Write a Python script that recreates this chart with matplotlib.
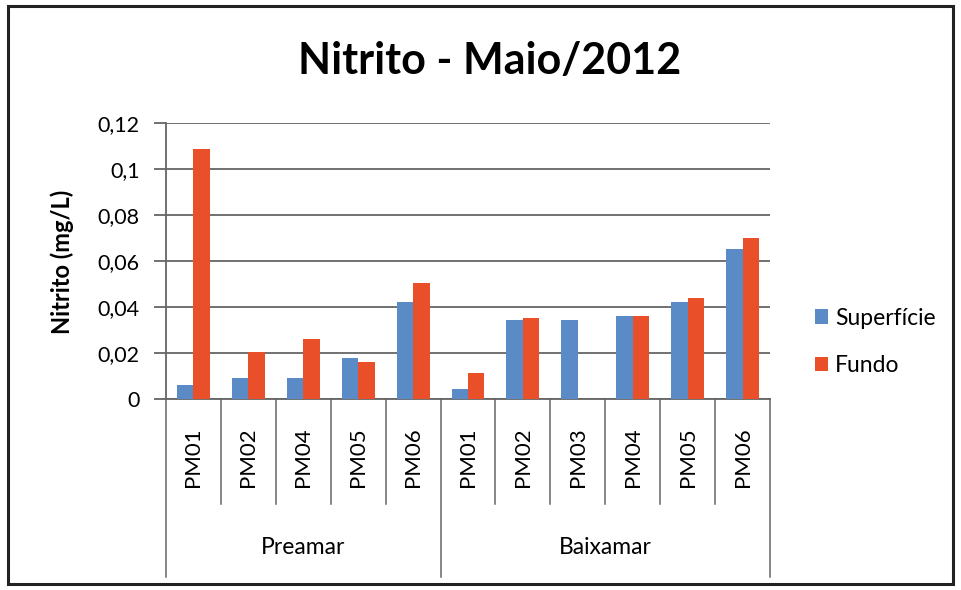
import matplotlib
matplotlib.use("Agg")
import matplotlib.pyplot as plt
import numpy as np
from matplotlib.patches import Rectangle
from matplotlib.transforms import blended_transform_factory

plt.rcParams['font.family'] = ['Lato', 'DejaVu Sans']

# Data
groups = ["Preamar", "Baixamar"]
stations_preamar = ["PM01", "PM02", "PM04", "PM05", "PM06"]
stations_baixamar = ["PM01", "PM02", "PM03", "PM04", "PM05", "PM06"]
superficie = [0.0062, 0.0090, 0.0090, 0.0178, 0.0422,
              0.0044, 0.0344, 0.0344, 0.0361, 0.0421, 0.0652]
fundo = [0.1087, 0.0203, 0.0261, 0.0162, 0.0504,
         0.0115, 0.0354, 0.0, 0.0361, 0.0441, 0.0700]
yticks = [0, 0.02, 0.04, 0.06, 0.08, 0.10, 0.12]
ytick_labels = ["0", "0,02", "0,04", "0,06", "0,08", "0,1", "0,12"]

labels = stations_preamar + stations_baixamar
n = len(labels)
x = np.arange(n)

blue = "#5A8BC7"
red = "#E9502A"
grid_c = "#666666"

fig = plt.figure(figsize=(9.61, 5.90), dpi=100)
ax = fig.add_axes([166/961, 1 - 399/590, (770-166)/961, (399-123)/590])

w = 0.30
ax.bar(x - w/2, superficie, width=w, color=blue, label="Superfície", zorder=3)
ax.bar(x + w/2, fundo, width=w, color=red, label="Fundo", zorder=3)

ax.set_xlim(-0.5, n - 0.5)
ax.set_ylim(0, 0.12)
ax.set_yticks(yticks)
ax.set_yticklabels(ytick_labels, fontsize=15.5)
ax.yaxis.grid(True, color=grid_c, linewidth=1.3, zorder=0)
ax.set_axisbelow(True)
ax.tick_params(axis='y', length=9, width=1.3, color=grid_c, pad=10)
ax.set_xticks([])
for s in ["top", "right"]:
    ax.spines[s].set_visible(False)
for s in ["left", "bottom"]:
    ax.spines[s].set_color(grid_c)
    ax.spines[s].set_linewidth(1.3)

ax.set_ylabel("Nitrito (mg/L)", fontsize=17, fontweight="bold")
ax.yaxis.set_label_coords(-0.152, 0.496)

# Multi-level category axis
tr = blended_transform_factory(ax.transData, ax.transAxes)
n_pre = len(stations_preamar)
for i in range(n + 1):
    xb = i - 0.5
    bottom = -0.645 if i in (0, n_pre, n) else -0.382
    ax.plot([xb, xb], [0, bottom], transform=tr, color=grid_c,
            linewidth=1.1, clip_on=False)
for i, lab in enumerate(labels):
    ax.text(i, -0.21, lab, transform=tr, rotation=90, ha="center",
            va="center", fontsize=16)
ax.text((n_pre - 1) / 2, -0.539, groups[0], transform=tr, ha="center",
        va="center", fontsize=16.5)
ax.text(n_pre + (n - n_pre - 1) / 2, -0.539, groups[1], transform=tr,
        ha="center", va="center", fontsize=16.5)

fig.text(490/961, 1 - 61/590, "Nitrito - Maio/2012", ha="center",
         va="center", fontsize=31, fontweight="bold")

fig.legend(loc="center left", bbox_to_anchor=(794/961, 1 - 342/590),
           frameon=False, fontsize=16.5, handlelength=0.6, handleheight=0.6,
           handletextpad=0.3, labelspacing=1.15)

fig.patches.append(Rectangle((8/961, 6/590), 945/961, 578/590,
                             transform=fig.transFigure, fill=False,
                             edgecolor="#222222", linewidth=2.2))

fig.savefig("out.png", dpi=100)
